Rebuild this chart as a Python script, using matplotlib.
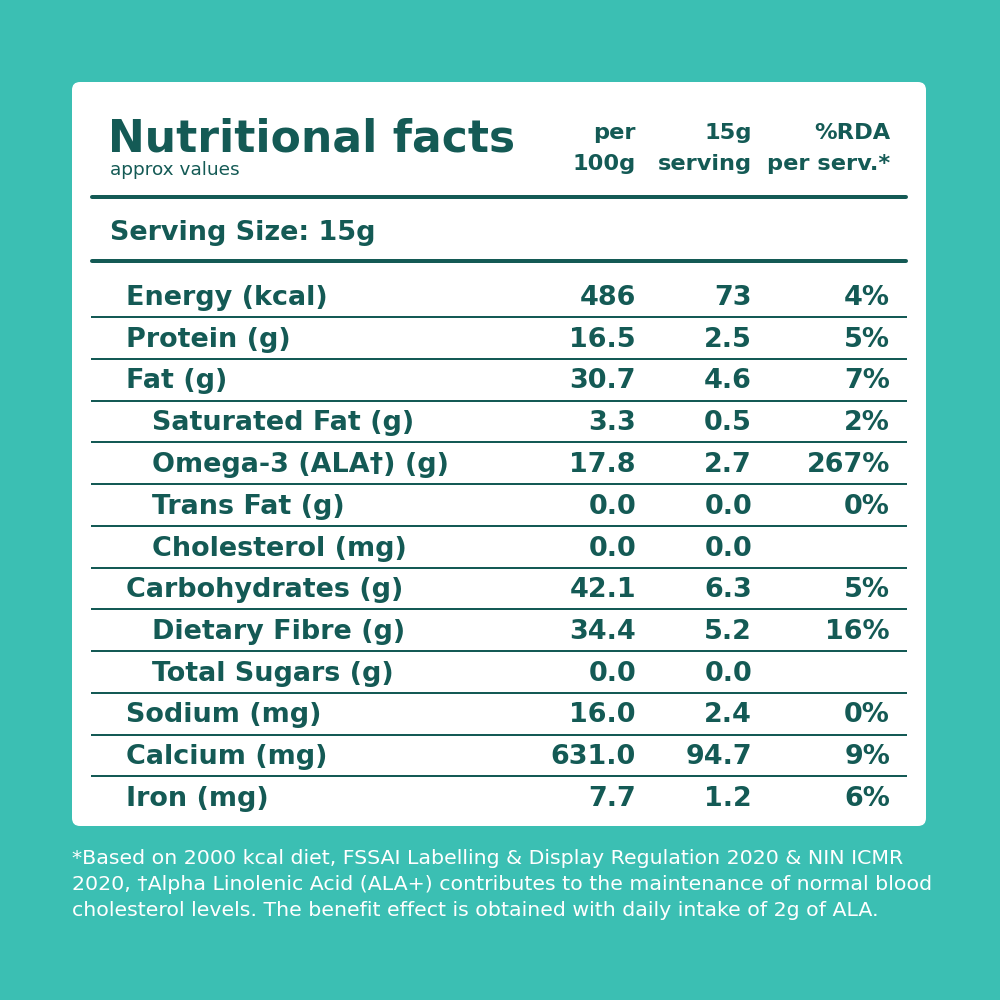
import matplotlib.pyplot as plt
from matplotlib.patches import FancyBboxPatch

labels = ["Energy (kcal)", "Protein (g)", "Fat (g)", "Saturated Fat (g)",
          "Omega-3 (ALA\u2020) (g)", "Trans Fat (g)", "Cholesterol (mg)",
          "Carbohydrates (g)", "Dietary Fibre (g)", "Total Sugars (g)",
          "Sodium (mg)", "Calcium (mg)", "Iron (mg)"]
indent = [0, 0, 0, 1, 1, 1, 1, 0, 1, 1, 0, 0, 0]
per_100g = ["486", "16.5", "30.7", "3.3", "17.8", "0.0", "0.0",
            "42.1", "34.4", "0.0", "16.0", "631.0", "7.7"]
per_serving = ["73", "2.5", "4.6", "0.5", "2.7", "0.0", "0.0",
               "6.3", "5.2", "0.0", "2.4", "94.7", "1.2"]
rda = ["4%", "5%", "7%", "2%", "267%", "0%", "",
       "5%", "16%", "", "0%", "9%", "6%"]
col_heads = [("per", "100g"), ("15g", "serving"), ("%RDA", "per serv.*")]
footnote = ["*Based on 2000 kcal diet, FSSAI Labelling & Display Regulation 2020 & NIN ICMR",
            "2020, \u2020Alpha Linolenic Acid (ALA+) contributes to the maintenance of normal blood",
            "cholesterol levels. The benefit effect is obtained with daily intake of 2g of ALA."]

teal = "#3bbfb3"
dark = "#145a55"
font = ["DejaVu Sans"]

fig = plt.figure(figsize=(10, 10), dpi=100)
fig.patch.set_facecolor(teal)
ax = fig.add_axes([0, 0, 1, 1])
ax.set_xlim(0, 1000)
ax.set_ylim(1000, 0)
ax.axis("off")

card = FancyBboxPatch((76, 86), 846, 736, boxstyle="round,pad=4,rounding_size=8",
                      fc="white", ec="none")
ax.add_patch(card)

def px(p):
    return p * 0.72

# title block
ax.text(108, 152, "Nutritional facts", fontsize=px(44), fontweight="bold",
        color=dark, family=font, va="baseline")
ax.text(110, 175, "approx values", fontsize=px(18.5), fontweight="normal",
        color=dark, family=font, va="baseline")

col_x = [636, 752, 890]
for cx, (h1, h2) in zip(col_x, col_heads):
    ax.text(cx, 139, h1, ha="right", va="baseline", fontsize=px(22.5),
            fontweight="bold", color=dark, family=font)
    ax.text(cx, 170, h2, ha="right", va="baseline", fontsize=px(22.5),
            fontweight="bold", color=dark, family=font)

ax.plot([92, 906], [197, 197], color=dark, lw=px(4), solid_capstyle="round")
ax.text(110, 240, "Serving Size: 15g", fontsize=px(27), fontweight="bold",
        color=dark, family=font, va="baseline")
ax.plot([92, 906], [261, 261], color=dark, lw=px(4), solid_capstyle="round")

step = 41.75
for i, lab in enumerate(labels):
    base = 305 + i * step
    ax.text(126 + 26 * indent[i], base, lab, fontsize=px(27), fontweight="bold",
            color=dark, family=font, va="baseline")
    for cx, val in zip(col_x, (per_100g[i], per_serving[i], rda[i])):
        ax.text(cx, base, val, ha="right", va="baseline", fontsize=px(27),
                fontweight="bold", color=dark, family=font)
    if i < len(labels) - 1:
        ax.plot([92, 906], [base + 12, base + 12], color=dark, lw=px(2))

for j, line in enumerate(footnote):
    ax.text(72, 864 + j * 26, line, fontsize=px(20.5), color="white",
            family=font, va="baseline")

fig.savefig("out.png", dpi=100, facecolor=teal)
